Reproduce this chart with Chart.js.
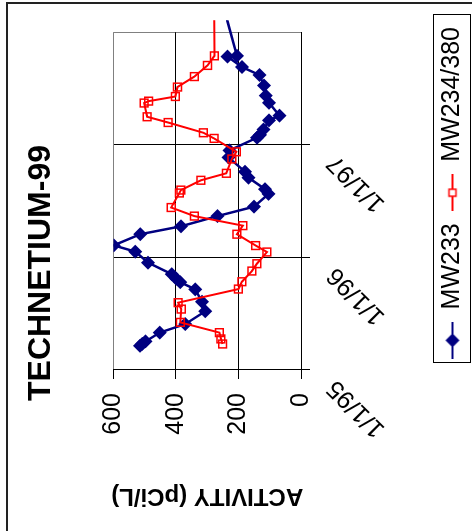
<!DOCTYPE html>
<html>
<head>
<meta charset="utf-8">
<script src="https://cdn.jsdelivr.net/npm/chart.js@4.4.0/dist/chart.umd.min.js"></script>
<style>
  html, body { margin: 0; padding: 0; background: #fff; overflow: hidden; }
  /* chart is laid out landscape, then turned a quarter turn to sit on the page */
  #wrap {
    position: absolute; left: 0; top: 0; width: 531px; height: 472px;
    transform-origin: 0 0;
    transform: translate(0, 531px) rotate(-90deg);
  }
</style>
</head>
<body>
<div id="wrap"><canvas id="tc99" width="531" height="472"></canvas></div>
<script>
// sample dates as decimal years, activity in pCi/L
const mw233Dates = [1995.215, 1995.232, 1995.254, 1995.332, 1995.408, 1995.522, 1995.606, 1995.716,
  1995.780, 1995.811, 1995.851, 1995.953, 1996.051, 1996.107, 1996.206, 1996.276, 1996.367, 1996.451,
  1996.564, 1996.606, 1996.708, 1996.761, 1996.888, 1996.950, 1997.063, 1997.088, 1997.136, 1997.217,
  1997.259, 1997.373, 1997.437, 1997.527, 1997.620, 1997.691, 1997.784, 1997.790, 1998.250];
const mw233Values = [515, 508, 497, 452, 370, 306, 317, 338,
  386, 399, 413, 489, 530, 599, 514, 384, 267, 150,
  104, 115, 168, 179, 232, 229, 141, 131, 120, 102,
  69, 102, 113, 118, 133, 189, 235, 205, 250];

const mw234Dates = [1995.231, 1995.276, 1995.332, 1995.423, 1995.541, 1995.598, 1995.719, 1995.784,
  1995.879, 1995.944, 1996.048, 1996.105, 1996.206, 1996.282, 1996.367, 1996.443, 1996.572, 1996.598,
  1996.685, 1996.747, 1996.874, 1996.938, 1997.057, 1997.107, 1997.198, 1997.249, 1997.371, 1997.388,
  1997.429, 1997.513, 1997.606, 1997.705, 1997.790, 1998.250];
const mw234Values = [251, 256, 261, 386, 383, 393, 200, 189,
  157, 141, 109, 145, 205, 186, 341, 415, 389, 384,
  320, 239, 221, 207, 278, 312, 425, 492, 502, 487,
  402, 395, 341, 299, 277, 278];

const dateLabels = ['1/1/95', '1/1/96', '1/1/97', ''];
const activityTicks = [0, 200, 400, 600];

const FONT = 'Arial, "Liberation Sans", sans-serif';
Chart.defaults.font.family = FONT;
Chart.defaults.color = '#000';

const toPoints = (xs, ys) => xs.map((x, i) => ({ x: x, y: ys[i] }));

// little line+marker swatch for the legend
function legendSymbol(color, shape) {
  const c = document.createElement('canvas');
  c.width = 37; c.height = 16;
  const g = c.getContext('2d');
  g.strokeStyle = color;
  g.lineWidth = 2;
  g.beginPath(); g.moveTo(0, 8); g.lineTo(37, 8); g.stroke();
  if (shape === 'diamond') {
    g.fillStyle = color;
    g.beginPath();
    g.moveTo(18.5, 1); g.lineTo(25.5, 8); g.lineTo(18.5, 15); g.lineTo(11.5, 8);
    g.closePath(); g.fill();
  } else {
    g.lineWidth = 1.5;
    g.fillStyle = '#fff';
    g.fillRect(15, 4.5, 7, 7);
    g.strokeRect(15, 4.5, 7, 7);
  }
  return c;
}

// outer frame + box round the legend
const framePlugin = {
  id: 'frame',
  afterDraw(chart) {
    const ctx = chart.ctx;
    ctx.save();
    ctx.strokeStyle = '#222';
    ctx.lineWidth = 2;
    ctx.beginPath();
    ctx.moveTo(0, 7); ctx.lineTo(528, 7); ctx.lineTo(528, chart.height);
    ctx.stroke();

    const lg = chart.legend;
    const x1 = lg.right;
    const x0 = x1 - 348;
    const y0 = lg.top + 5;
    ctx.strokeStyle = '#000';
    ctx.lineWidth = 1;
    ctx.strokeRect(Math.round(x0) + 0.5, Math.round(y0) + 0.5, Math.round(x1 - x0), 37);
    ctx.restore();
  }
};

new Chart(document.getElementById('tc99'), {
  type: 'line',
  data: {
    datasets: [
      {
        label: 'MW233',
        data: toPoints(mw233Dates, mw233Values),
        borderColor: '#000080',
        backgroundColor: '#000080',
        borderWidth: 2.5,
        pointStyle: 'rectRot',
        pointRadius: 7,
        pointBorderWidth: 0,
        pointBackgroundColor: '#000080',
        tension: 0,
        order: 2,
        clip: { left: 0, top: 0, right: 12, bottom: 0 }
      },
      {
        label: 'MW234/380',
        data: toPoints(mw234Dates, mw234Values),
        borderColor: '#ff0000',
        backgroundColor: 'rgba(0,0,0,0)',
        borderWidth: 2,
        pointStyle: 'rect',
        pointRadius: 5.5,
        pointBorderWidth: 1.5,
        pointBorderColor: '#ff0000',
        pointBackgroundColor: 'rgba(0,0,0,0)',
        tension: 0,
        order: 1,
        clip: { left: 0, top: 0, right: 12, bottom: 0 }
      }
    ]
  },
  options: {
    responsive: false,
    animation: false,
    layout: { padding: { left: 0, right: 15, top: 0, bottom: -3 } },
    plugins: {
      tooltip: { enabled: false },
      title: {
        display: true,
        text: 'TECHNETIUM-99',
        color: '#000',
        font: { size: 32, weight: 'bold' },
        padding: { top: 22, bottom: 53 }
      },
      legend: {
        position: 'bottom',
        align: 'end',
        labels: {
          color: '#000',
          font: { size: 25 },
          padding: 12,
          usePointStyle: true,
          pointStyleWidth: 37,
          boxHeight: 16,
          generateLabels: chart => chart.data.datasets.map((ds, i) => ({
            text: ds.label,
            datasetIndex: i,
            fontColor: '#000',
            pointStyle: legendSymbol(ds.borderColor, i === 0 ? 'diamond' : 'square'),
            lineWidth: 0,
            strokeStyle: 'rgba(0,0,0,0)',
            fillStyle: 'rgba(0,0,0,0)'
          }))
        }
      }
    },
    scales: {
      x: {
        type: 'linear',
        min: 1995,
        max: 1998,
        afterFit: s => { s.height = 127; },
        ticks: {
          stepSize: 1,
          autoSkip: false,
          minRotation: 45,
          maxRotation: 45,
          labelOffset: -14,
          padding: 11,
          font: { size: 25 },
          callback: (v, i) => dateLabels[i]
        },
        grid: {
          color: c => (c.tick && c.tick.value === 1998 ? '#808080' : '#000'),
          tickColor: c => (c.tick && c.tick.value === 1998 ? 'rgba(0,0,0,0)' : '#000'),
          tickLength: 9,
          lineWidth: 1
        },
        border: { color: '#000', width: 1 }
      },
      y: {
        min: 0,
        max: 600,
        afterFit: s => { s.width = 161; },
        afterBuildTicks: s => { s.ticks = activityTicks.map(v => ({ value: v })); },
        ticks: {
          padding: 14,
          font: { size: 25 }
        },
        title: {
          display: true,
          text: 'ACTIVITY (pCi/L)',
          color: '#000',
          font: { size: 24, weight: 'bold' },
          padding: { top: 21, bottom: 0 }
        },
        grid: {
          color: c => (c.tick && c.tick.value === 600 ? '#808080' : '#000'),
          tickColor: '#000',
          tickLength: 9,
          lineWidth: 1
        },
        border: { color: '#000', width: 1 }
      }
    }
  },
  plugins: [framePlugin]
});
</script>
</body>
</html>
